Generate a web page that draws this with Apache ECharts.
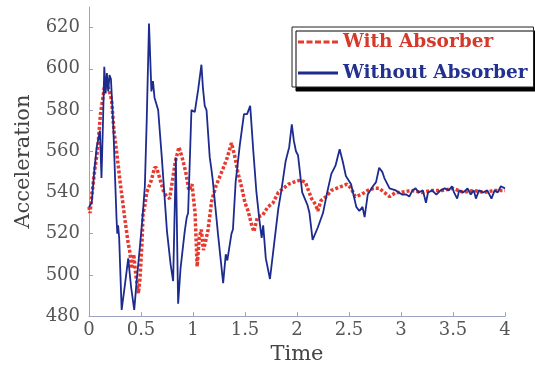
<!DOCTYPE html>
<html>
<head>
<meta charset="utf-8">
<script src="https://cdn.jsdelivr.net/npm/echarts@6/dist/echarts.min.js"></script>
<style>html,body{margin:0;padding:0;background:#fff;}#c{width:535px;height:370px;}</style>
</head>
<body>
<div id="c"></div>
<script>
// Without Absorber (blue solid)
var tBlue = [0.00,0.026,0.05,0.074,0.09,0.105,0.12,0.135,0.147,0.16,0.172,0.185,0.197,0.211,0.233,0.25,0.265,0.272,0.28,0.29,0.314,0.345,0.377,0.405,0.435,0.46,0.49,0.515,0.537,0.555,0.577,0.60,0.615,0.63,0.665,0.70,0.75,0.785,0.809,0.835,0.857,0.88,0.92,0.94,0.953,0.985,1.00,1.017,1.05,1.081,1.095,1.113,1.13,1.161,1.175,1.19,1.24,1.265,1.29,1.315,1.33,1.37,1.384,1.41,1.45,1.49,1.52,1.55,1.58,1.61,1.64,1.66,1.675,1.70,1.74,1.78,1.82,1.85,1.89,1.925,1.95,1.97,1.99,2.01,2.05,2.10,2.12,2.15,2.20,2.25,2.29,2.33,2.37,2.41,2.44,2.47,2.52,2.57,2.60,2.63,2.65,2.68,2.73,2.76,2.79,2.82,2.84,2.89,2.95,3.01,3.05,3.08,3.11,3.14,3.17,3.21,3.24,3.26,3.30,3.34,3.38,3.42,3.46,3.49,3.51,3.54,3.56,3.60,3.64,3.67,3.70,3.72,3.75,3.79,3.83,3.87,3.90,3.93,3.96,4.00];
var vBlue = [533,535,550,562,566,570,547,575,601,588,598,589,597,595,573,548,527,520,524,518,483,495,508,494,483,498,514,528,543,575,622,589,594,586,580,557,521,505,497,557,486,503,521,528,530,580,580,579,590,602,591,582,580,557,552,546,520,508,496,510,507,520,522,545,563,578,578,582,560,540,526,518,524,508,498,515,532,541,555,562,573,565,560,558,540,534,530,517,523,530,540,549,553,561,555,548,544,533,531,533,528,539,543,545,552,550,547,542,541,539,539,538,541,542,540,541,535,540,541,539,541,542,541,543,540,537,541,540,542,539,541,537,541,540,541,537,541,540,543,542];

// With Absorber (red dotted)
var tRed = [0.00,0.01,0.03,0.058,0.075,0.09,0.11,0.137,0.155,0.17,0.19,0.217,0.24,0.265,0.297,0.345,0.375,0.393,0.41,0.43,0.45,0.475,0.49,0.51,0.52,0.535,0.555,0.60,0.63,0.65,0.697,0.72,0.75,0.775,0.80,0.83,0.865,0.895,0.93,0.96,0.99,1.02,1.04,1.06,1.08,1.10,1.12,1.145,1.18,1.22,1.26,1.30,1.33,1.37,1.40,1.43,1.47,1.50,1.53,1.56,1.585,1.62,1.67,1.72,1.77,1.82,1.87,1.92,1.97,2.03,2.08,2.11,2.14,2.18,2.20,2.23,2.28,2.33,2.38,2.43,2.48,2.52,2.56,2.62,2.68,2.74,2.79,2.84,2.89,2.95,3.00,3.10,3.20,3.30,3.40,3.50,3.60,3.70,3.80,3.90,4.00];
var vRed = [533,530,540,552,558,565,578,587,594,593,590,585,570,560,546,527,516,511,503,510,500,491,498,516,530,533,540,546,552,552,544,540,538,537,545,555,562,557,550,541,544,530,504,518,522,512,516,522,536,543,548,553,557,564,558,550,542,535,531,525,521,528,529,533,535,540,542,544,545,546,545,541,537,534,531,536,538,541,542,543,544,542,538,539,541,542,542,540,538,540,540,541,540,541,541,542,540,541,540,541,541];

// Axis ticks
var xMin = 0, xMax = 4, xStep = 0.5;
var yMin = 480, yMax = 630, yStep = 20;

function pairs(t, v) { return t.map(function (x, i) { return [x, v[i]]; }); }

var serif = 'DejaVu Serif';
var chart = echarts.init(document.getElementById('c'), null, {renderer: 'canvas'});
chart.setOption({
  animation: false,
  backgroundColor: '#ffffff',
  grid: {left: 89, right: 30, top: 7, bottom: 48, containLabel: false},
  xAxis: {
    type: 'value', min: xMin, max: xMax, interval: xStep,
    name: 'Time', nameLocation: 'middle', nameGap: 24,
    nameTextStyle: {fontFamily: serif, fontSize: 21, color: '#444'},
    axisLine: {lineStyle: {color: '#9aa2c0', width: 1}},
    axisTick: {inside: true, length: 4, lineStyle: {color: '#9aa2c0'}},
    axisLabel: {fontFamily: serif, fontSize: 18, color: '#555', margin: 5},
    splitLine: {show: false}
  },
  yAxis: {
    type: 'value', min: yMin, max: yMax, interval: yStep,
    name: 'Acceleration', nameLocation: 'middle', nameGap: 55, nameRotate: 90,
    nameTextStyle: {fontFamily: serif, fontSize: 21, color: '#444'},
    axisLine: {show: true, lineStyle: {color: '#9aa2c0', width: 1}},
    axisTick: {show: true, inside: true, length: 4, lineStyle: {color: '#9aa2c0'}},
    axisLabel: {fontFamily: serif, fontSize: 18, color: '#555', margin: 9, showMaxLabel: false},
    splitLine: {show: false}
  },
  legend: {
    orient: 'vertical', left: 292, top: 27,
    backgroundColor: '#ffffff', borderColor: '#222', borderWidth: 1,
    shadowColor: '#000', shadowBlur: 0, shadowOffsetX: 4, shadowOffsetY: 4,
    padding: [5, 6, 4, 6], itemGap: 11, itemWidth: 40, itemHeight: 3,
    textStyle: {fontFamily: serif, fontWeight: 'bold', fontSize: 18.5, lineHeight: 20},
    data: [
      {name: 'With Absorber', icon: 'path://M0,0h6v3h-6zM8.5,0h6v3h-6zM17,0h6v3h-6zM25.5,0h6v3h-6zM34,0h6v3h-6z', itemStyle: {color: '#e63a2e'}, textStyle: {color: '#d5392b'}},
      {name: 'Without Absorber', icon: 'path://M0,0h40v3h-40z', itemStyle: {color: '#1d2b8f'}, textStyle: {color: '#22318f'}}
    ]
  },
  series: [
    {
      name: 'With Absorber', type: 'line', data: pairs(tRed, vRed),
      showSymbol: false, symbol: 'none', z: 2,
      lineStyle: {color: '#e63a2e', width: 3.5, type: [3, 2]}
    },
    {
      name: 'Without Absorber', type: 'line', data: pairs(tBlue, vBlue),
      showSymbol: false, symbol: 'none', z: 3,
      lineStyle: {color: '#1d2b8f', width: 1.8}
    }
  ]
});
</script>
</body>
</html>
